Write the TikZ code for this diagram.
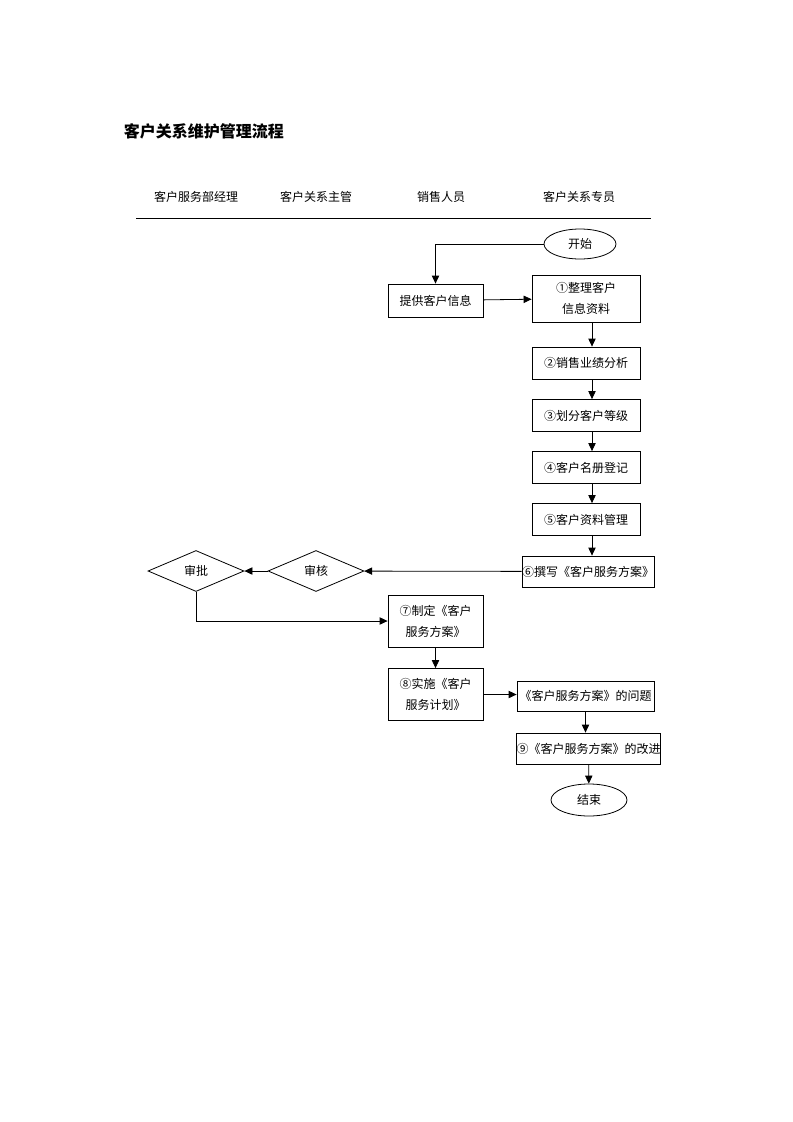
\documentclass[tikz,border=0pt]{standalone}
\usepackage{fontspec}
\newfontfamily\cjk{Noto Sans CJK SC}
\usetikzlibrary{arrows.meta, positioning, shapes.geometric}

\begin{document}
\begin{tikzpicture}[
    x=0.75pt, y=-0.75pt,
    font=\cjk\fontsize{9}{15.75}\selectfont,
    line width=0.6pt,
    box/.style={draw, align=center, inner sep=0pt,
        minimum width=81pt, minimum height=24pt},
    term/.style={draw, ellipse, inner sep=0pt,
        minimum width=54pt, minimum height=22.5pt},
    check/.style={draw, diamond, inner sep=0pt,
        minimum width=72pt, minimum height=30.75pt},
    lane/.style={anchor=center},
    flow/.style={-{Triangle[length=6pt, width=5.5pt]}},
]
\useasboundingbox (0,0) rectangle (793,1122);

% titulo
\node[anchor=west, font=\cjk\bfseries\fontsize{12}{14}\selectfont] (title)
    at (119,131) {客户关系维护管理流程};

% carriles
\node[lane] (l1) at (196,197) {客户服务部经理};
\node[lane] (l2) at (316,197) {客户关系主管};
\node[lane] (l3) at (441,197) {销售人员};
\node[lane] (l4) at (579,197) {客户关系专员};
\coordinate (rl) at (136,218);
\coordinate (rr) at (651,218);
\draw (rl) -- (rr);

% inicio
\node[term] (start) at (580,244) {开始};

% ventas
\node[box, minimum width=71.25pt, minimum height=24.75pt] (info) at (435.5,300.5) {提供客户信息};

% especialista
\node[box, minimum height=35.25pt] (s1) at (586,298.5) {①整理客户\\信息资料};
\node[box] (s2) at (586,363) {②销售业绩分析};
\node[box] (s3) at (586,415.5) {③划分客户等级};
\node[box] (s4) at (586,467.5) {④客户名册登记};
\node[box] (s5) at (586,519.5) {⑤客户资料管理};
\node[box, minimum width=99pt, minimum height=23.25pt] (s6) at (588,571.5) {⑥撰写《客户服务方案》};

% revision y aprobacion
\node[check] (rev) at (316,571) {审核};
\node[check] (appr) at (196,571) {审批};

% plan
\node[box, minimum width=71.25pt, minimum height=39pt] (s7) at (435.5,621) {⑦制定《客户\\服务方案》};
\node[box, minimum width=71.25pt, minimum height=39pt] (s8) at (435.5,694.5) {⑧实施《客户\\服务计划》};
\node[box, minimum width=102.75pt, minimum height=22.5pt] (prob) at (585.5,696) {《客户服务方案》的问题};
\node[box, minimum width=107.25pt, minimum height=23.25pt] (s9) at (588.5,748.5) {⑨《客户服务方案》的改进};

% fin
\node[term, minimum width=57pt, minimum height=24pt] (end) at (589,800) {结束};

% conectores
\coordinate (col) at (592,0);
\draw[flow] (start.west) -| (info.north);
\draw[flow] (info) -- (s1);
\foreach \a/\b in {s1/s2, s2/s3, s3/s4, s4/s5, s5/s6}
    \draw[flow] (\a.south -| col) -- (\b.north -| col);
\draw[flow] (s6) -- (rev);
\draw[flow] (rev) -- (appr);
\draw[flow] (appr.south) |- (s7.west);
\draw[flow] (s7) -- (s8);
\draw[flow] (s8.east) -- (s8.east -| prob.west);
\draw[flow] (prob) -- (prob.south |- s9.north);
\draw[flow] (s9) -- (end);

\end{tikzpicture}
\end{document}
